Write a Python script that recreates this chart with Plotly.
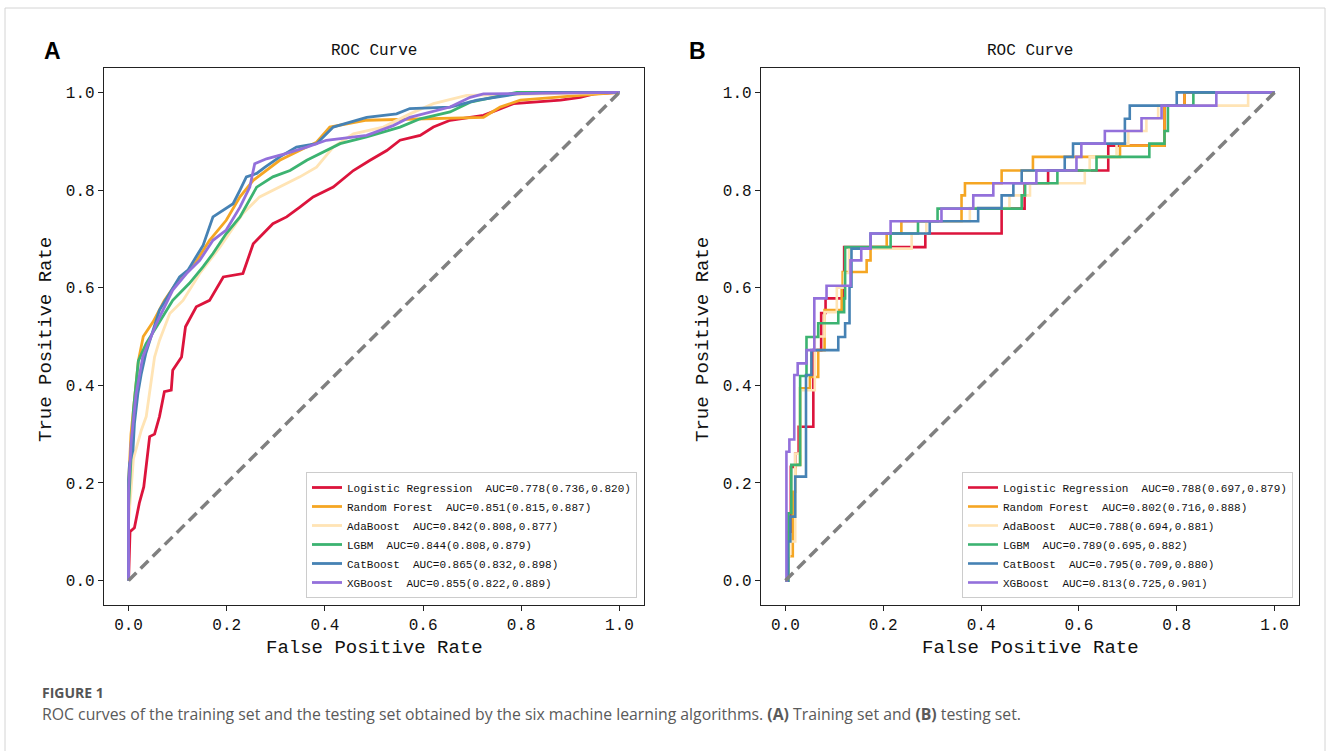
import plotly.graph_objects as go

W, H = 1330, 751

models = ["Logistic Regression", "Random Forest", "AdaBoost", "LGBM", "CatBoost", "XGBoost"]
auc_train = ["0.778(0.736,0.820)", "0.851(0.815,0.887)", "0.842(0.808,0.877)",
             "0.844(0.808,0.879)", "0.865(0.832,0.898)", "0.855(0.822,0.889)"]
auc_test = ["0.788(0.697,0.879)", "0.802(0.716,0.888)", "0.788(0.694,0.881)",
            "0.789(0.695,0.882)", "0.795(0.709,0.880)", "0.813(0.725,0.901)"]
tick_vals = [0.0, 0.2, 0.4, 0.6, 0.8, 1.0]
tick_text = ["0.0", "0.2", "0.4", "0.6", "0.8", "1.0"]

# ---- training set (A) ----
lr_train_fpr = [0, 0.003, 0.012, 0.022, 0.031, 0.043, 0.053, 0.063, 0.073, 0.087, 0.09, 0.104, 0.108, 0.116, 0.138, 0.165, 0.193, 0.233, 0.254, 0.294, 0.322, 0.349, 0.376, 0.417, 0.458, 0.492, 0.526, 0.553, 0.594, 0.621, 0.655, 0.723, 0.757, 0.784, 0.88, 0.92, 0.948, 1]
lr_train_tpr = [0, 0.10, 0.108, 0.159, 0.192, 0.295, 0.30, 0.336, 0.387, 0.39, 0.431, 0.452, 0.458, 0.52, 0.561, 0.574, 0.622, 0.629, 0.69, 0.731, 0.745, 0.765, 0.786, 0.806, 0.84, 0.861, 0.881, 0.902, 0.912, 0.929, 0.943, 0.953, 0.967, 0.977, 0.984, 0.99, 0.997, 1]
rf_train_fpr = [0, 0.0, 0.005, 0.01, 0.02, 0.03, 0.05, 0.073, 0.097, 0.131, 0.165, 0.199, 0.227, 0.254, 0.308, 0.383, 0.41, 0.485, 0.621, 0.723, 0.757, 0.798, 0.92, 1]
rf_train_tpr = [0, 0.2, 0.3, 0.35, 0.45, 0.5, 0.53, 0.574, 0.609, 0.643, 0.697, 0.738, 0.786, 0.82, 0.861, 0.898, 0.929, 0.943, 0.946, 0.949, 0.97, 0.984, 0.994, 1]
ada_train_fpr = [0, 0.0, 0.01, 0.026, 0.036, 0.045, 0.053, 0.063, 0.084, 0.111, 0.145, 0.186, 0.233, 0.267, 0.308, 0.349, 0.383, 0.417, 0.458, 0.519, 0.573, 0.621, 0.689, 0.825, 1]
ada_train_tpr = [0, 0.12, 0.25, 0.308, 0.336, 0.4, 0.458, 0.492, 0.547, 0.574, 0.629, 0.683, 0.752, 0.786, 0.806, 0.827, 0.847, 0.888, 0.915, 0.929, 0.956, 0.977, 0.994, 0.997, 1]
lgbm_train_fpr = [0, 0.0, 0.005, 0.01, 0.02, 0.036, 0.057, 0.09, 0.124, 0.152, 0.172, 0.199, 0.227, 0.261, 0.294, 0.329, 0.363, 0.39, 0.431, 0.485, 0.553, 0.594, 0.655, 0.696, 0.791, 1]
lgbm_train_tpr = [0, 0.15, 0.25, 0.35, 0.45, 0.486, 0.52, 0.574, 0.609, 0.643, 0.67, 0.711, 0.745, 0.806, 0.827, 0.84, 0.861, 0.875, 0.895, 0.909, 0.929, 0.946, 0.96, 0.98, 1.0, 1]
cat_train_fpr = [0, 0.0, 0.002, 0.009, 0.012, 0.019, 0.026, 0.035, 0.063, 0.084, 0.104, 0.121, 0.138, 0.152, 0.172, 0.193, 0.213, 0.227, 0.24, 0.261, 0.278, 0.308, 0.342, 0.383, 0.417, 0.485, 0.546, 0.573, 0.655, 0.71, 0.791, 0.85, 1]
cat_train_tpr = [0, 0.206, 0.24, 0.267, 0.322, 0.383, 0.424, 0.465, 0.554, 0.588, 0.622, 0.636, 0.663, 0.687, 0.745, 0.759, 0.772, 0.8, 0.827, 0.834, 0.847, 0.868, 0.888, 0.895, 0.929, 0.949, 0.956, 0.967, 0.97, 0.984, 0.997, 1.0, 1]
xgb_train_fpr = [0, 0.0, 0.005, 0.015, 0.029, 0.057, 0.09, 0.118, 0.145, 0.172, 0.199, 0.227, 0.247, 0.257, 0.281, 0.322, 0.363, 0.403, 0.485, 0.539, 0.573, 0.655, 0.696, 0.723, 1]
xgb_train_tpr = [0, 0.18, 0.28, 0.38, 0.458, 0.527, 0.595, 0.629, 0.656, 0.697, 0.718, 0.765, 0.806, 0.854, 0.864, 0.875, 0.888, 0.902, 0.912, 0.932, 0.949, 0.97, 0.99, 0.997, 1]

# ---- testing set (B) ----
lr_test_fpr = [0, 0.005, 0.011, 0.02, 0.027, 0.057, 0.073, 0.082, 0.12, 0.286, 0.442, 0.442, 0.489, 0.537, 0.66, 0.775, 0.816, 1]
lr_test_tpr = [0, 0.10, 0.233, 0.26, 0.315, 0.472, 0.548, 0.578, 0.683, 0.711, 0.736, 0.762, 0.814, 0.840, 0.891, 0.973, 1.0, 1]
rf_test_fpr = [0, 0.005, 0.015, 0.02, 0.03, 0.05, 0.067, 0.08, 0.115, 0.117, 0.166, 0.174, 0.207, 0.237, 0.36, 0.367, 0.442, 0.506, 0.684, 0.775, 0.816, 1]
rf_test_tpr = [0, 0.05, 0.182, 0.237, 0.394, 0.417, 0.472, 0.554, 0.602, 0.632, 0.656, 0.683, 0.711, 0.736, 0.789, 0.814, 0.840, 0.868, 0.891, 0.973, 1.0, 1]
ada_test_fpr = [0, 0.004, 0.008, 0.02, 0.03, 0.06, 0.08, 0.105, 0.12, 0.13, 0.258, 0.288, 0.377, 0.458, 0.5, 0.612, 0.622, 0.677, 0.701, 0.738, 0.762, 0.946, 1]
ada_test_tpr = [0, 0.05, 0.08, 0.26, 0.39, 0.50, 0.55, 0.60, 0.63, 0.68, 0.711, 0.736, 0.763, 0.789, 0.814, 0.840, 0.868, 0.895, 0.921, 0.947, 0.973, 1.0, 1]
lgbm_test_fpr = [0, 0.006, 0.012, 0.03, 0.043, 0.067, 0.108, 0.12, 0.122, 0.215, 0.271, 0.311, 0.483, 0.49, 0.556, 0.636, 0.744, 0.775, 0.782, 0.834, 1]
lgbm_test_tpr = [0, 0.138, 0.237, 0.419, 0.499, 0.527, 0.55, 0.578, 0.683, 0.711, 0.736, 0.762, 0.789, 0.814, 0.840, 0.868, 0.895, 0.921, 0.973, 1.0, 1]
cat_test_fpr = [0, 0.005, 0.01, 0.02, 0.042, 0.042, 0.053, 0.108, 0.122, 0.131, 0.135, 0.174, 0.295, 0.394, 0.442, 0.466, 0.483, 0.571, 0.588, 0.694, 0.704, 0.80, 1]
cat_test_tpr = [0, 0.08, 0.131, 0.213, 0.288, 0.421, 0.472, 0.499, 0.527, 0.602, 0.680, 0.711, 0.736, 0.763, 0.789, 0.814, 0.840, 0.868, 0.895, 0.946, 0.973, 1.0, 1]
xgb_test_fpr = [0, 0.002, 0.008, 0.018, 0.025, 0.043, 0.059, 0.084, 0.133, 0.155, 0.174, 0.215, 0.319, 0.384, 0.425, 0.513, 0.595, 0.605, 0.653, 0.728, 0.769, 0.881, 1]
xgb_test_tpr = [0, 0.264, 0.289, 0.421, 0.445, 0.472, 0.578, 0.604, 0.656, 0.680, 0.711, 0.736, 0.762, 0.789, 0.814, 0.840, 0.868, 0.895, 0.921, 0.947, 0.973, 1.0, 1]

chance_x = [0, 1]
chance_y = [0, 1]

train_sets = [(lr_train_fpr, lr_train_tpr), (rf_train_fpr, rf_train_tpr), (ada_train_fpr, ada_train_tpr),
              (lgbm_train_fpr, lgbm_train_tpr), (cat_train_fpr, cat_train_tpr), (xgb_train_fpr, xgb_train_tpr)]
test_sets = [(lr_test_fpr, lr_test_tpr), (rf_test_fpr, rf_test_tpr), (ada_test_fpr, ada_test_tpr),
             (lgbm_test_fpr, lgbm_test_tpr), (cat_test_fpr, cat_test_tpr), (xgb_test_fpr, xgb_test_tpr)]

colors = ["#DC143C", "#F5A623", "#FFE4B5", "#3CB371", "#4682B4", "#9370DB"]

MONO = "Liberation Mono"
NB = "\u00a0\u00a0"

fig = go.Figure()

for i, (fx, ty) in enumerate(train_sets):
    fig.add_trace(go.Scatter(x=fx, y=ty, mode="lines", xaxis="x", yaxis="y",
                             name=models[i] + NB + "AUC=" + auc_train[i],
                             line=dict(color=colors[i], width=2.8), legend="legend"))
fig.add_trace(go.Scatter(x=chance_x, y=chance_y, mode="lines", xaxis="x", yaxis="y", showlegend=False,
                         line=dict(color="#808080", width=3.5, dash="11px,6px")))

for i, (fx, ty) in enumerate(test_sets):
    fig.add_trace(go.Scatter(x=fx, y=ty, mode="lines", xaxis="x2", yaxis="y2",
                             name=models[i] + NB + "AUC=" + auc_test[i],
                             line=dict(color=colors[i], width=2.6, shape="hv"), legend="legend2"))
fig.add_trace(go.Scatter(x=chance_x, y=chance_y, mode="lines", xaxis="x2", yaxis="y2", showlegend=False,
                         line=dict(color="#808080", width=3.5, dash="11px,6px")))

def px(v):
    return v / W

def py(v):
    return 1 - v / H

axis_common = dict(range=[-0.05, 1.05], tickvals=tick_vals, ticktext=tick_text, showgrid=False,
                   zeroline=False, showline=True, linecolor="#222", linewidth=1.3, mirror=True,
                   ticks="outside", ticklen=5, tickwidth=1.2, tickcolor="#222",
                   tickfont=dict(family=MONO, size=16, color="#111"))

legend_common = dict(xanchor="right", yanchor="bottom", bgcolor="white", bordercolor="#cccccc",
                     borderwidth=1, font=dict(family=MONO, size=11, color="#111"),
                     tracegroupgap=0, itemwidth=30)

fig.update_layout(
    width=W, height=H, margin=dict(l=0, r=0, t=0, b=0),
    plot_bgcolor="white", paper_bgcolor="white",
    xaxis=dict(domain=[px(104), px(644)], anchor="y", **axis_common),
    yaxis=dict(domain=[py(605), py(68)], anchor="x", **axis_common),
    xaxis2=dict(domain=[px(761), px(1299)], anchor="y2", **axis_common),
    yaxis2=dict(domain=[py(605), py(68)], anchor="x2", **axis_common),
    legend=dict(x=px(637), y=py(598), **legend_common),
    legend2=dict(x=px(1293), y=py(598), **legend_common),
    showlegend=True,
)

ann = []
def add_text(text, x, y, size, family, color="#111", xanchor="center", textangle=0, bold=False):
    ann.append(dict(text=("<b>%s</b>" % text) if bold else text, x=px(x), y=py(y), xref="paper", yref="paper",
                    xanchor=xanchor, yanchor="middle", showarrow=False, textangle=textangle,
                    font=dict(family=family, size=size, color=color)))

for cx in [374, 1030]:
    add_text("ROC Curve", cx, 51, 16, MONO)
    add_text("False Positive Rate", cx, 648, 19, MONO)
add_text("True Positive Rate", 46, 340, 19, MONO, textangle=-90)
add_text("True Positive Rate", 703, 340, 19, MONO, textangle=-90)
add_text("A", 52, 51, 23, "Liberation Sans", bold=True, color="#000")
add_text("B", 697, 51, 23, "Liberation Sans", bold=True, color="#000")
add_text("FIGURE 1", 40, 692, 14, "Open Sans", color="#555", xanchor="left", bold=True)
add_text("ROC curves of the training set and the testing set obtained by the six machine learning algorithms. "
         "<b>(A)</b> Training set and <b>(B)</b> testing set.", 40, 714, 15.8, "Open Sans", color="#5a5a5a", xanchor="left")

fig.update_layout(annotations=ann,
                  shapes=[dict(type="rect", xref="paper", yref="paper", x0=px(5), x1=px(1325),
                               y0=-0.05, y1=py(8), line=dict(color="#d4d4d4", width=1), layer="below")])

fig.write_html("out.html")
